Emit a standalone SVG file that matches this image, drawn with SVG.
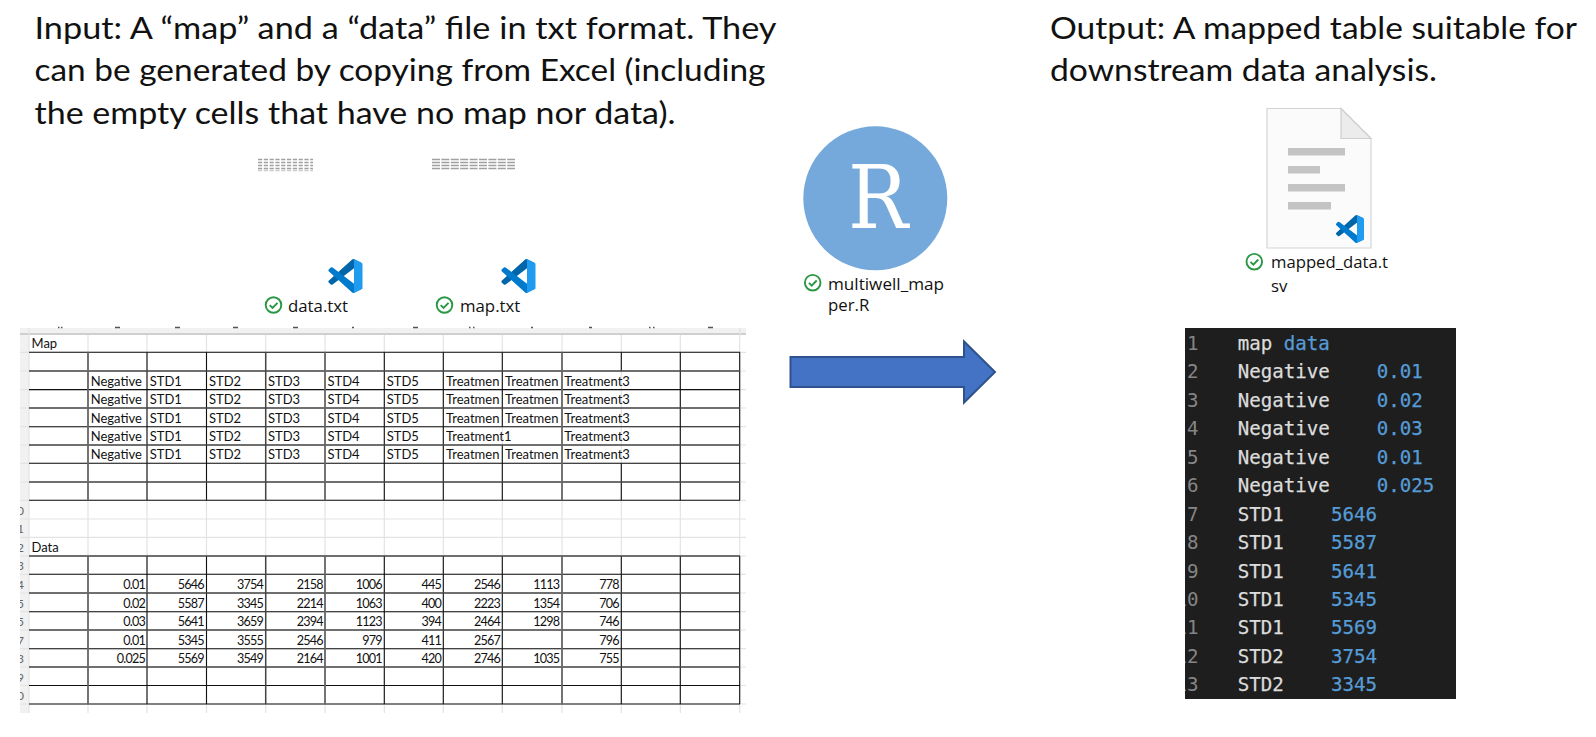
<svg xmlns="http://www.w3.org/2000/svg" xmlns:xlink="http://www.w3.org/1999/xlink" width="1596" height="737" viewBox="0 0 1596 737">
<style>
.t{font:30.5px Lato,"Liberation Sans",sans-serif;fill:#111}
.c{font:13px Lato,"Liberation Sans",sans-serif;fill:#111}
.n{font:12.6px Lato,"Liberation Sans",sans-serif;fill:#111;text-anchor:end;letter-spacing:-.8px}
.g{stroke:#e3e3e3;stroke-width:1.2;fill:none}
.b{stroke:#111;stroke-width:1.1;fill:none}
.h{stroke:#444;stroke-width:1.5;fill:none}
.v{stroke:#666;stroke-width:1.8;fill:none}
.f{font:16.8px "Open Sans","Noto Sans",sans-serif;fill:#111}
.m{font:19.15px "DejaVu Sans Mono",monospace;fill:#dcdcdc;stroke:#dcdcdc;stroke-width:.25}
.mb{fill:#569cd6;stroke:#569cd6}
.ln{fill:#858585;stroke:none}
.rn{font:12px Lato,sans-serif;fill:#666;text-anchor:end}
.tick{stroke:#555;stroke-width:1.4}
.bar{fill:#c4c4c4}
.th{fill:none;stroke-width:1.7;stroke:#a0a0a0}
</style>
<defs>
<clipPath id="gut"><rect x="20" y="328" width="9" height="385"/></clipPath>
<clipPath id="con"><rect x="1185" y="328" width="271" height="371"/></clipPath>
<symbol id="vs" viewBox="0 0 100 100">
<path fill="#0065a9" d="M96.46 10.8 75.86.9a6.23 6.23 0 0 0-7.1 1.2L1.3 63.6a4.16 4.16 0 0 0 0 6.2l5.5 5a4.16 4.16 0 0 0 5.3.2L93.4 13.5c2.7-2 6.6-.1 6.6 3.3v-.2a6.25 6.25 0 0 0-3.54-5.8Z"/>
<path fill="#007acc" d="M96.46 89.2 75.86 99.1a6.23 6.23 0 0 1-7.1-1.2L1.3 36.4a4.16 4.16 0 0 1 0-6.2l5.5-5a4.16 4.16 0 0 1 5.3-.2L93.4 86.5c2.7 2 6.6.1 6.6-3.3v.2a6.25 6.25 0 0 1-3.54 5.8Z"/>
<path fill="#1f9cf0" d="M75.86 99.1a6.23 6.23 0 0 1-7.1-1.2c2.3 2.3 6.24.67 6.24-2.6V4.7c0-3.27-3.94-4.9-6.24-2.6a6.23 6.23 0 0 1 7.1-1.2l20.6 9.9A6.25 6.25 0 0 1 100 16.4v67.2a6.25 6.25 0 0 1-3.54 5.6Z"/>
</symbol>
<g id="ok" fill="none" stroke="#2a9744"><circle r="7.8" stroke-width="1.9"/><path d="M-3.8 .2-1 3 4-2.2" stroke-width="1.9"/></g>
</defs>
<rect width="1596" height="737" fill="#fff"/>

<g id="title-input">
<text class="t" x="34.5" y="38.5" textLength="742" lengthAdjust="spacingAndGlyphs">Input: A “map” and a “data” file in txt format. They</text>
<text class="t" x="34.5" y="81" textLength="731" lengthAdjust="spacingAndGlyphs">can be generated by copying from Excel (including</text>
<text class="t" x="34.5" y="123.5" textLength="641" lengthAdjust="spacingAndGlyphs">the empty cells that have no map nor data).</text>
</g>
<g id="title-output">
<text class="t" x="1050" y="38.5" textLength="527" lengthAdjust="spacingAndGlyphs">Output: A mapped table suitable for</text>
<text class="t" x="1050" y="81" textLength="387" lengthAdjust="spacingAndGlyphs">downstream data analysis.</text>
</g>

<g id="file-data">
<g class="th" stroke-dasharray="4.2 1.6"><path d="M258 159.5h55M258 162.5h55M258 165.5h55M258 168.5h55"/><path d="M258 170.5h55" stroke="#ccc"/></g>
<use href="#vs" x="328" y="259" width="35" height="34"/>
<use href="#ok" x="273.5" y="305"/>
<text class="f" x="288" y="312">data.txt</text>
</g>
<g id="file-map">
<g class="th" stroke-dasharray="8 1.4"><path d="M432 159.5h83M432 162.5h83M432 165.5h83M432 168.5h83"/></g>
<use href="#vs" x="501" y="259" width="35" height="34"/>
<use href="#ok" x="444.5" y="305"/>
<text class="f" x="460" y="312">map.txt</text>
</g>
<g id="file-script">
<circle cx="875.3" cy="198.3" r="72" fill="#75a9db"/>
<text x="878" y="227.5" font-family="'DejaVu Serif',serif" font-size="88" fill="#fff" text-anchor="middle" textLength="60" lengthAdjust="spacingAndGlyphs">R</text>
<use href="#ok" x="812.7" y="282.7"/>
<text class="f" x="828" y="290" textLength="116" lengthAdjust="spacingAndGlyphs">multiwell_map</text>
<text class="f" x="828" y="311">per.R</text>
</g>
<g id="file-output">
<path d="M1267 108.5H1341L1371 138.5V248H1267Z" fill="#fbfbfb" stroke="#d4d4d4" stroke-width="1.2"/>
<path d="M1341 108.5V138.5H1371Z" fill="#ececec" stroke="#cfcfcf" stroke-width="1.2"/>
<rect class="bar" x="1288" y="148" width="57" height="7.5"/>
<rect class="bar" x="1288" y="166" width="32" height="7.5"/>
<rect class="bar" x="1288" y="184" width="57" height="7.5"/>
<rect class="bar" x="1288" y="202" width="43" height="7.5"/>
<use href="#vs" x="1336" y="215" width="28" height="28"/>
<use href="#ok" x="1254.3" y="261.7"/>
<text class="f" x="1271" y="268" textLength="117" lengthAdjust="spacingAndGlyphs">mapped_data.t</text>
<text class="f" x="1271" y="291.5">sv</text>
</g>

<g id="sheet">
<rect x="20" y="328" width="726" height="5" fill="#f1f1f1"/>
<rect x="20" y="333" width="726" height="2" fill="#cfcfcf"/>
<rect x="20" y="335" width="9" height="378" fill="#f1f1f1"/>
<path class="tick" d="M58 327.5h1.5M61 327.5h1.5M115 327.5h5M175 327.5h5M233 327.5h5M293 327.5h5M352 327.5h2M413 327.5h5M469 327.5h1.5M473 327.5h1.5M531 327.5h2M589 327.5h3M649 327.5h1.5M653 327.5h1.5M708 327.5h5"/>
<g class="g">
<path d="M29 328V713M88 335V713M147 335V713M206.5 335V713M265.7 335V713M325 335V713M384.3 335V713M443.3 335V713M502.3 335V713M562 335V713M621.3 335V713M680.3 335V713M739.7 328V713"/>
<path d="M20 352.3H746M20 371H746M20 389.6H746M20 408H746M20 426.7H746M20 445H746M20 463.3H746M20 482H746M20 500.3H746M20 519H746M20 537.3H746M20 556H746M20 574.3H746M20 593H746M20 611.7H746M20 630H746M20 648.7H746M20 667H746M20 685.5H746M20 704H746"/>
</g>
<g class="b">
<path d="M29 352.3H740M29 389.6H740M29 426.7H740M29 463.3H740M29 500.3H740"/>
<path d="M29 574.3H740M29 611.7H740M29 648.7H740M29 685.5H740M29 704H740"/>
<path d="M147 352.3V500.3M206.5 352.3V500.3M384.3 352.3V500.3M443.3 352.3V500.3M680.3 352.3V500.3M739.7 352.3V500.3M502.3 352.3V426.7M502.3 445V500.3M621.3 352.3V371M621.3 463.3V500.3"/>
<path d="M147 556V704M206.5 556V704M384.3 556V704M443.3 556V704M502.3 556V704M621.3 556V704M680.3 556V704M739.7 556V704"/>
</g>
<g class="h">
<path d="M29 371H740M29 408H740M29 445H740M29 482H740"/>
<path d="M29 556H740M29 593H740M29 630H740M29 667H740"/>
<path d="M265.7 352.3V500.3M265.7 556V704"/>
</g>
<g class="v">
<path d="M88 352.3V500.3M325 352.3V500.3M562 352.3V500.3M88 556V704M325 556V704M562 556V704"/>
</g>
<g clip-path="url(#gut)">
<text class="rn" x="24" y="514.5">0</text><text class="rn" x="24" y="533">1</text><text class="rn" x="24" y="551.5">2</text><text class="rn" x="24" y="570">3</text><text class="rn" x="24" y="589">4</text><text class="rn" x="24" y="607.5">5</text><text class="rn" x="24" y="626">5</text><text class="rn" x="24" y="644.5">7</text><text class="rn" x="24" y="663">3</text><text class="rn" x="24" y="681.5">9</text><text class="rn" x="24" y="700">0</text>
</g>
<text class="c" x="31.5" y="348">Map</text>
<text class="c" x="31.5" y="551.5">Data</text>

<g id="map-r1"><text class="c" x="90.7" y="385.5">Negative</text><text class="c" x="149.7" y="385.5">STD1</text><text class="c" x="209" y="385.5">STD2</text><text class="c" x="268" y="385.5">STD3</text><text class="c" x="327.5" y="385.5">STD4</text><text class="c" x="386.7" y="385.5">STD5</text><text class="c" x="446" y="385.5">Treatmen</text><text class="c" x="505" y="385.5">Treatmen</text><text class="c" x="564.3" y="385.5">Treatment3</text></g>
<g id="map-r2"><text class="c" x="90.7" y="404">Negative</text><text class="c" x="149.7" y="404">STD1</text><text class="c" x="209" y="404">STD2</text><text class="c" x="268" y="404">STD3</text><text class="c" x="327.5" y="404">STD4</text><text class="c" x="386.7" y="404">STD5</text><text class="c" x="446" y="404">Treatmen</text><text class="c" x="505" y="404">Treatmen</text><text class="c" x="564.3" y="404">Treatment3</text></g>
<g id="map-r3"><text class="c" x="90.7" y="422.5">Negative</text><text class="c" x="149.7" y="422.5">STD1</text><text class="c" x="209" y="422.5">STD2</text><text class="c" x="268" y="422.5">STD3</text><text class="c" x="327.5" y="422.5">STD4</text><text class="c" x="386.7" y="422.5">STD5</text><text class="c" x="446" y="422.5">Treatmen</text><text class="c" x="505" y="422.5">Treatmen</text><text class="c" x="564.3" y="422.5">Treatment3</text></g>
<g id="map-r4"><text class="c" x="90.7" y="441">Negative</text><text class="c" x="149.7" y="441">STD1</text><text class="c" x="209" y="441">STD2</text><text class="c" x="268" y="441">STD3</text><text class="c" x="327.5" y="441">STD4</text><text class="c" x="386.7" y="441">STD5</text><text class="c" x="446" y="441">Treatment1</text><text class="c" x="564.3" y="441">Treatment3</text></g>
<g id="map-r5"><text class="c" x="90.7" y="459.3">Negative</text><text class="c" x="149.7" y="459.3">STD1</text><text class="c" x="209" y="459.3">STD2</text><text class="c" x="268" y="459.3">STD3</text><text class="c" x="327.5" y="459.3">STD4</text><text class="c" x="386.7" y="459.3">STD5</text><text class="c" x="446" y="459.3">Treatmen</text><text class="c" x="505" y="459.3">Treatmen</text><text class="c" x="564.3" y="459.3">Treatment3</text></g>

<g id="data-r1"><text class="n" x="145" y="589">0.01</text><text class="n" x="203.7" y="589">5646</text><text class="n" x="263" y="589">3754</text><text class="n" x="322.7" y="589">2158</text><text class="n" x="381.7" y="589">1006</text><text class="n" x="441" y="589">445</text><text class="n" x="500" y="589">2546</text><text class="n" x="559.3" y="589">1113</text><text class="n" x="618.7" y="589">778</text></g>
<g id="data-r2"><text class="n" x="145" y="607.5">0.02</text><text class="n" x="203.7" y="607.5">5587</text><text class="n" x="263" y="607.5">3345</text><text class="n" x="322.7" y="607.5">2214</text><text class="n" x="381.7" y="607.5">1063</text><text class="n" x="441" y="607.5">400</text><text class="n" x="500" y="607.5">2223</text><text class="n" x="559.3" y="607.5">1354</text><text class="n" x="618.7" y="607.5">706</text></g>
<g id="data-r3"><text class="n" x="145" y="626">0.03</text><text class="n" x="203.7" y="626">5641</text><text class="n" x="263" y="626">3659</text><text class="n" x="322.7" y="626">2394</text><text class="n" x="381.7" y="626">1123</text><text class="n" x="441" y="626">394</text><text class="n" x="500" y="626">2464</text><text class="n" x="559.3" y="626">1298</text><text class="n" x="618.7" y="626">746</text></g>
<g id="data-r4"><text class="n" x="145" y="644.7">0.01</text><text class="n" x="203.7" y="644.7">5345</text><text class="n" x="263" y="644.7">3555</text><text class="n" x="322.7" y="644.7">2546</text><text class="n" x="381.7" y="644.7">979</text><text class="n" x="441" y="644.7">411</text><text class="n" x="500" y="644.7">2567</text><text class="n" x="618.7" y="644.7">796</text></g>
<g id="data-r5"><text class="n" x="145" y="663">0.025</text><text class="n" x="203.7" y="663">5569</text><text class="n" x="263" y="663">3549</text><text class="n" x="322.7" y="663">2164</text><text class="n" x="381.7" y="663">1001</text><text class="n" x="441" y="663">420</text><text class="n" x="500" y="663">2746</text><text class="n" x="559.3" y="663">1035</text><text class="n" x="618.7" y="663">755</text></g>
</g>

<g id="connectors">
<path d="M790.5 357H964V341.5L995 372L964 402.5V387H790.5Z" fill="#4472c4" stroke="#2f528f" stroke-width="2"/>
</g>

<g id="console">
<rect x="1185" y="328" width="271" height="371" fill="#1e1e1e"/>
<g clip-path="url(#con)" class="m">
<text class="ln" x="1187" y="350">1</text><text class="ln" x="1187" y="378.4">2</text><text class="ln" x="1187" y="406.9">3</text><text class="ln" x="1187" y="435.3">4</text><text class="ln" x="1187" y="463.8">5</text><text class="ln" x="1187" y="492.2">6</text><text class="ln" x="1187" y="520.6">7</text><text class="ln" x="1187" y="549.1">8</text><text class="ln" x="1187" y="577.5">9</text><text class="ln" x="1175.5" y="606">10</text><text class="ln" x="1175.5" y="634.4">11</text><text class="ln" x="1175.5" y="662.8">12</text><text class="ln" x="1175.5" y="691.3">13</text>
<text x="1237.7" y="350">map <tspan class="mb">data</tspan></text>
<text x="1237.7" y="378.4">Negative</text><text class="mb" x="1376.7" y="378.4">0.01</text>
<text x="1237.7" y="406.9">Negative</text><text class="mb" x="1376.7" y="406.9">0.02</text>
<text x="1237.7" y="435.3">Negative</text><text class="mb" x="1376.7" y="435.3">0.03</text>
<text x="1237.7" y="463.8">Negative</text><text class="mb" x="1376.7" y="463.8">0.01</text>
<text x="1237.7" y="492.2">Negative</text><text class="mb" x="1376.7" y="492.2">0.025</text>
<text x="1237.7" y="520.6">STD1</text><text class="mb" x="1331" y="520.6">5646</text>
<text x="1237.7" y="549.1">STD1</text><text class="mb" x="1331" y="549.1">5587</text>
<text x="1237.7" y="577.5">STD1</text><text class="mb" x="1331" y="577.5">5641</text>
<text x="1237.7" y="606">STD1</text><text class="mb" x="1331" y="606">5345</text>
<text x="1237.7" y="634.4">STD1</text><text class="mb" x="1331" y="634.4">5569</text>
<text x="1237.7" y="662.8">STD2</text><text class="mb" x="1331" y="662.8">3754</text>
<text x="1237.7" y="691.3">STD2</text><text class="mb" x="1331" y="691.3">3345</text>
</g>
</g>
</svg>
